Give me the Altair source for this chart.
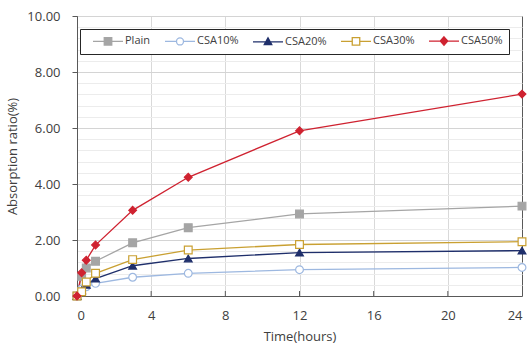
import altair as alt
import pandas as pd

hours = [0, 0.25, 0.5, 1, 3, 6, 12, 24]
series_names = ["Plain", "CSA10%", "CSA20%", "CSA30%", "CSA50%"]
plain = [0, 0.70, 1.00, 1.24, 1.90, 2.44, 2.93, 3.21]
csa10 = [0, 0.25, 0.33, 0.45, 0.67, 0.81, 0.94, 1.02]
csa20 = [0, 0.20, 0.40, 0.62, 1.08, 1.34, 1.55, 1.62]
csa30 = [0, 0.15, 0.50, 0.81, 1.30, 1.64, 1.84, 1.94]
csa50 = [0, 0.83, 1.28, 1.82, 3.06, 4.24, 5.90, 7.21]

x_labels = [0, 4, 8, 12, 16, 20, 24]
x_grid = [4, 8, 12, 16, 20]
y_major = [0, 2, 4, 6, 8, 10]
y_minor = [0.4, 0.8, 1.2, 1.6, 2.4, 2.8, 3.2, 3.6, 4.4, 4.8, 5.2, 5.6,
           6.4, 6.8, 7.2, 7.6, 8.4, 8.8, 9.2, 9.6]

stroke_colors = ["#a5a5a5", "#9db8e0", "#1f2f6b", "#c9a032", "#cf2230"]
fill_colors = ["#a5a5a5", "#ffffff", "#1f2f6b", "#ffffff", "#cf2230"]
shapes = ["square", "circle", "triangle-up", "square", "diamond"]

# legend symbols: line with marker (unit space, scaled by sqrt(size)/2)
legend_shapes = [
    "M0.2,0H6.2M2.45,-0.75H3.95V0.75H2.45Z",
    "M0.2,0H2.5M3.9,0H6.2M2.5,0A0.7,0.7,0,1,0,3.9,0A0.7,0.7,0,1,0,2.5,0Z",
    "M0.2,0H6.2M3.2,-0.8L3.95,0.55H2.45Z",
    "M0.2,0H2.45M3.95,0H6.2M2.45,-0.75H3.95V0.75H2.45Z",
    "M0.2,0H6.2M3.2,-0.85L3.95,0L3.2,0.85L2.45,0Z",
]

rows = []
for name, vals in zip(series_names, [plain, csa10, csa20, csa30, csa50]):
    for h, v in zip(hours, vals):
        rows.append({"series": name, "hours": h, "ratio": v, "order": series_names.index(name)})
df = pd.DataFrame(rows)
ticks_df = pd.DataFrame({"hours": x_grid})

FONT = "Open Sans"
TXT = "#404040"

xscale = alt.Scale(domain=[0, 24], nice=False)
yscale = alt.Scale(domain=[0, 10], nice=False)
stroke_scale = alt.Scale(domain=series_names, range=stroke_colors)
fill_scale = alt.Scale(domain=series_names, range=fill_colors)
shape_scale = alt.Scale(domain=series_names, range=shapes)
legend_shape_scale = alt.Scale(domain=series_names, range=legend_shapes)

lines = alt.Chart(df).mark_line(strokeWidth=1.3).encode(
    x=alt.X("hours:Q", scale=xscale,
            axis=alt.Axis(orient="bottom", values=x_grid, grid=True, gridColor="#d9d9d9",
                          labels=False, ticks=False, domain=False, title=None)),
    y=alt.Y("ratio:Q", scale=yscale,
            axis=alt.Axis(orient="left", values=y_minor, grid=True, gridColor="#ececec",
                          labels=False, ticks=False, domain=False, title=None)),
    stroke=alt.Stroke("series:N", scale=stroke_scale, legend=None),
    detail="series:N",
    order="hours:Q",
)

points = alt.Chart(df).mark_point(filled=True, size=60, strokeWidth=1.2, opacity=1).encode(
    x=alt.X("hours:Q", scale=xscale,
            axis=alt.Axis(orient="bottom", values=x_labels, grid=False, ticks=False,
                          domain=True, domainColor="#595959", labelPadding=13,
                          labelFont=FONT, labelFontSize=13, labelColor=TXT,
                          title="Time(hours)", titleFont=FONT, titleFontSize=13,
                          titleFontWeight="normal", titleColor=TXT, titlePadding=8)),
    y=alt.Y("ratio:Q", scale=yscale,
            axis=alt.Axis(orient="left", values=y_major, format=".2f", grid=True,
                          gridColor="#d4d4d4", gridWidth=1.2, tickSize=5,
                          tickColor="#595959", domainColor="#595959", labelPadding=12,
                          labelFont=FONT, labelFontSize=13, labelColor=TXT,
                          title="Absorption ratio(%)", titleFont=FONT, titleFontSize=13,
                          titleFontWeight="normal", titleColor=TXT, titlePadding=7)),
    stroke=alt.Stroke("series:N", scale=stroke_scale, legend=None),
    fill=alt.Fill("series:N", scale=fill_scale, legend=None),
    shape=alt.Shape("series:N", scale=shape_scale, legend=None),
    order=alt.Order("order:Q"),
)

legend_kw = dict(
    title=None, orient="none", legendX=3, legendY=13, direction="horizontal",
    strokeColor="#262626", fillColor="white", padding=6,
    labelFont=FONT, labelFontSize=11, labelColor=TXT, labelOffset=27,
    columnPadding=7, symbolSize=100, symbolStrokeWidth=1.3, symbolOpacity=1,
)

legend_layer = alt.Chart(df).mark_point(filled=True, size=100, strokeWidth=1.3, opacity=0).encode(
    x=alt.X("hours:Q", scale=xscale, axis=None),
    y=alt.Y("ratio:Q", scale=yscale, axis=None),
    stroke=alt.Stroke("series:N", scale=stroke_scale, legend=alt.Legend(**legend_kw)),
    fill=alt.Fill("series:N", scale=fill_scale, legend=alt.Legend(**legend_kw)),
    shape=alt.Shape("series:N", scale=legend_shape_scale, legend=alt.Legend(**legend_kw)),
)

xticks = alt.Chart(ticks_df).mark_rule(color="#595959").encode(
    x=alt.X("hours:Q", scale=xscale, axis=None),
    y=alt.value(280),
    y2=alt.value(275),
)

chart = alt.layer(lines, xticks, points, legend_layer).resolve_axis(
    x="independent", y="independent"
).resolve_scale(
    shape="independent", fill="independent", stroke="independent"
).properties(
    width=445, height=280,
    padding={"left": 77, "top": 16, "right": 6, "bottom": 49},
    autosize=alt.AutoSizeParams(type="none"),
).configure_view(stroke="#595959", strokeWidth=1)

chart.save("out.html", embed_options={"renderer": "svg", "actions": False})
